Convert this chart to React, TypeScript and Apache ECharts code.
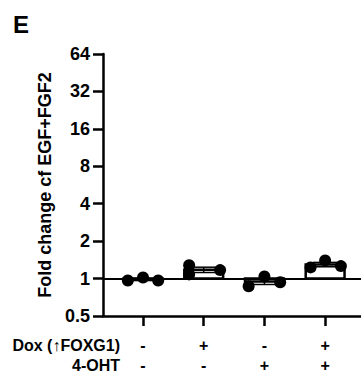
import React, { useEffect, useRef } from "react";
import * as echarts from "echarts";

const conditionPositions = [1, 2, 3, 4];
const doxLabels = ["-", "+", "-", "+"];
const ohtLabels = ["-", "-", "+", "+"];
const replicateValues = [
  [0.964, 1.02, 0.964],
  [1.28, 1.08, 1.17],
  [0.867, 1.04, 0.933],
  [1.23, 1.4, 1.26],
];
const replicateOffsets = [
  [-0.25, 0, 0.25],
  [-0.24, -0.24, 0.27],
  [-0.26, 0, 0.26],
  [-0.24, 0, 0.26],
];
const yTickValues = [0.5, 1, 2, 4, 8, 16, 32, 64];

const FONT = '"Liberation Sans", Arial, Helvetica, sans-serif';

function mean(a: number[]) {
  return a.reduce((s, v) => s + v, 0) / a.length;
}
function sem(a: number[]) {
  const m = mean(a);
  const sd = Math.sqrt(a.reduce((s, v) => s + (v - m) * (v - m), 0) / (a.length - 1));
  return sd / Math.sqrt(a.length);
}

export default function App() {
  const ref = useRef<HTMLDivElement>(null);
  useEffect(() => {
    if (!ref.current) return;
    const chart = echarts.init(ref.current, null, { renderer: "svg" });

    const barData = conditionPositions.map((x, i) => [x, mean(replicateValues[i])]);
    const errData = conditionPositions.map((x, i) => {
      const m = mean(replicateValues[i]);
      const s = sem(replicateValues[i]);
      return [x, m - s, m + s];
    });
    const dotData: number[][] = [];
    conditionPositions.forEach((x, i) => {
      replicateValues[i].forEach((v, j) => dotData.push([x + replicateOffsets[i][j], v]));
    });

    chart.setOption({
      animation: false,
      grid: { left: 103, right: 0, top: 54, bottom: 58, containLabel: false, outerBoundsMode: "none" },
      xAxis: {
        type: "value",
        min: 0.341,
        max: 4.591,
        axisLine: { show: true, lineStyle: { color: "#000", width: 2.5 } },
        axisTick: {
          show: true,
          customValues: conditionPositions,
          length: 10,
          lineStyle: { color: "#000", width: 2.5 },
        },
        axisLabel: {
          show: true,
          customValues: conditionPositions,
          margin: 19,
          fontFamily: FONT,
          fontWeight: "bold",
          fontSize: 16,
          lineHeight: 20,
          color: "#000",
          formatter: (v: number) => {
            const i = Math.round(v) - 1;
            return doxLabels[i] + "\n" + ohtLabels[i];
          },
        },
        splitLine: { show: false },
      },
      yAxis: {
        type: "log",
        logBase: 2,
        min: 0.5,
        max: 64,
        interval: 1,
        splitNumber: 7,
        name: "Fold change cf EGF+FGF2",
        nameLocation: "middle",
        nameRotate: 90,
        nameGap: 47,
        nameTextStyle: { fontFamily: FONT, fontWeight: "bold", fontSize: 18, color: "#000" },
        axisLine: { show: true, lineStyle: { color: "#000", width: 2.5 } },
        axisTick: { show: true, length: 10, lineStyle: { color: "#000", width: 2.5 } },
        axisLabel: {
          margin: 13,
          fontFamily: FONT,
          fontWeight: "bold",
          fontSize: 18,
          color: "#000",
          formatter: (v: number) => {
            const t = yTickValues.find((k) => Math.abs(k - v) / k < 1e-6);
            return t !== undefined ? String(t) : "";
          },
        },
        splitLine: { show: false },
      },
      graphic: [
        {
          type: "text",
          left: 13,
          top: 12,
          style: { text: "E", font: `bold 24px ${FONT}`, fill: "#000" },
        },
        {
          type: "text",
          x: 120,
          y: 345,
          style: {
            text: "Dox (\u2191FOXG1)",
            font: `bold 16px ${FONT}`,
            fill: "#000",
            textAlign: "right",
            textVerticalAlign: "middle",
          },
        },
        {
          type: "text",
          x: 120,
          y: 365,
          style: {
            text: "4-OHT",
            font: `bold 16px ${FONT}`,
            fill: "#000",
            textAlign: "right",
            textVerticalAlign: "middle",
          },
        },
      ],
      series: [
        {
          type: "custom",
          z: 1,
          data: barData,
          renderItem: (params: any, api: any) => {
            const x = api.value(0);
            const m = api.value(1);
            const p0 = api.coord([x - 0.32, 1]);
            const p1 = api.coord([x + 0.32, m]);
            return {
              type: "rect",
              shape: {
                x: p0[0],
                y: Math.min(p0[1], p1[1]),
                width: p1[0] - p0[0],
                height: Math.abs(p1[1] - p0[1]),
              },
              style: { fill: "#fff", stroke: "#000", lineWidth: 2.5 },
            };
          },
          markLine: {
            silent: true,
            symbol: "none",
            label: { show: false },
            lineStyle: { color: "#000", width: 2, type: "solid" },
            data: [{ yAxis: 1 }],
            z: 2,
          },
        },
        {
          type: "custom",
          z: 3,
          data: errData,
          renderItem: (params: any, api: any) => {
            const x = api.value(0);
            const lo = api.value(1);
            const hi = api.value(2);
            const a = api.coord([x, lo]);
            const b = api.coord([x, hi]);
            const la = api.coord([x - 0.2, lo]);
            const ra = api.coord([x + 0.2, lo]);
            const lb = api.coord([x - 0.2, hi]);
            const rb = api.coord([x + 0.2, hi]);
            const st = { stroke: "#000", lineWidth: 1.5 };
            return {
              type: "group",
              children: [
                { type: "line", shape: { x1: a[0], y1: a[1], x2: b[0], y2: b[1] }, style: st },
                { type: "line", shape: { x1: la[0], y1: la[1], x2: ra[0], y2: ra[1] }, style: st },
                { type: "line", shape: { x1: lb[0], y1: lb[1], x2: rb[0], y2: rb[1] }, style: st },
              ],
            };
          },
        },
        {
          type: "scatter",
          z: 4,
          symbol: "circle",
          symbolSize: 12,
          itemStyle: { color: "#000", opacity: 1 },
          data: dotData,
        },
      ],
    });
    return () => chart.dispose();
  }, []);
  return (
    <div
      ref={ref}
      style={{ position: "fixed", left: 0, top: 0, width: 361, height: 374, background: "#fff" }}
    />
  );
}
